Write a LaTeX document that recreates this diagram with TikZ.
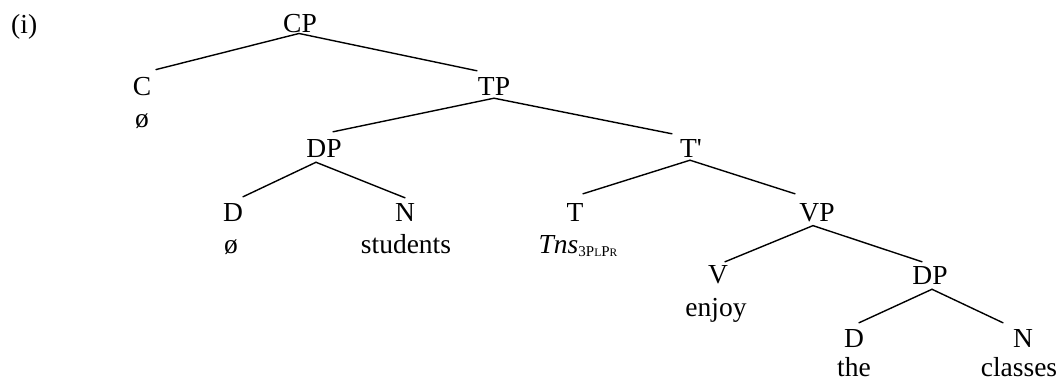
\documentclass[tikz,border=0pt]{standalone}
\usepackage{fontspec}
\setmainfont{Liberation Serif}
\newcommand{\bigsc}{\fontsize{15}{15}\selectfont}
\newcommand{\smallsc}{\fontsize{11.5}{11.5}\selectfont}
\begin{document}
\begin{tikzpicture}[x=1pt,y=-1pt,
  every node/.style={inner sep=0pt, anchor=base, font=\fontsize{27.5}{33}\selectfont},
  branch/.style={line width=1.4pt, line cap=round}]
\useasboundingbox (0,0) rectangle (1058,381);
\node[anchor=base west] (ex) at (11,33) {(i)};
% categories
\node (cp)  at (300,32)  {CP};
\node (c)   at (142,95)  {C};
\node (tp)  at (494,95)  {TP};
\node (dpa) at (324,157) {DP};
\node (tb)  at (691,157) {T\textquotesingle};
\node (da)  at (233,221) {D};
\node (na)  at (405,221) {N};
\node (t)   at (575,221) {T};
\node (vp)  at (817,221) {VP};
\node (v)   at (718,283) {V};
\node (dpb) at (930,284) {DP};
\node (db)  at (854,347) {D};
\node (nb)  at (1023,347) {N};
% words
\node (cw)  at (142,127) {ø};
\node (daw) at (231,253) {ø};
\node (naw) at (406,253) {students};
\node (tw)  at (578,253) {\textit{Tns}\raisebox{-3pt}{\bigsc 3P\smallsc L\bigsc P\smallsc R}};
\node (vw)  at (716,316) {enjoy};
\node (dbw) at (854,376) {the};
\node (nbw) at (1019,376) {classes};
% branches
\draw[branch] ([xshift=-1pt,yshift=-1pt]cp.south) -- ([xshift=14pt,yshift=7pt]c.north);
\draw[branch] ([xshift=-1pt,yshift=-1pt]cp.south) -- ([xshift=-17pt,yshift=6pt]tp.north);
\draw[branch] ([yshift=-3pt]tp.south) -- ([xshift=9pt,yshift=7pt]dpa.north);
\draw[branch] ([yshift=-3pt]tp.south) -- ([xshift=-19pt,yshift=5pt]tb.north);
\draw[branch] ([xshift=-8pt,yshift=-5pt]dpa.south) -- ([xshift=10pt,yshift=6pt]da.north);
\draw[branch] ([xshift=-8pt,yshift=-5pt]dpa.south) -- ([yshift=5pt]na.north);
\draw[branch] ([xshift=-1pt,yshift=-3pt]tb.south) -- ([xshift=8pt,yshift=9pt]t.north);
\draw[branch] ([xshift=-1pt,yshift=-3pt]tb.south) -- ([xshift=-22pt,yshift=9pt]vp.north);
\draw[branch] ([xshift=-4pt,yshift=-4pt]vp.south) -- ([xshift=7pt,yshift=3pt]v.north);
\draw[branch] ([xshift=-4pt,yshift=-4pt]vp.south) -- ([xshift=-8pt,yshift=4pt]dpb.north);
\draw[branch] ([xshift=2pt,yshift=-5pt]dpb.south) -- ([xshift=5pt,yshift=6pt]db.north);
\draw[branch] ([xshift=2pt,yshift=-5pt]dpb.south) -- ([xshift=-20pt,yshift=6pt]nb.north);
\end{tikzpicture}
\end{document}
